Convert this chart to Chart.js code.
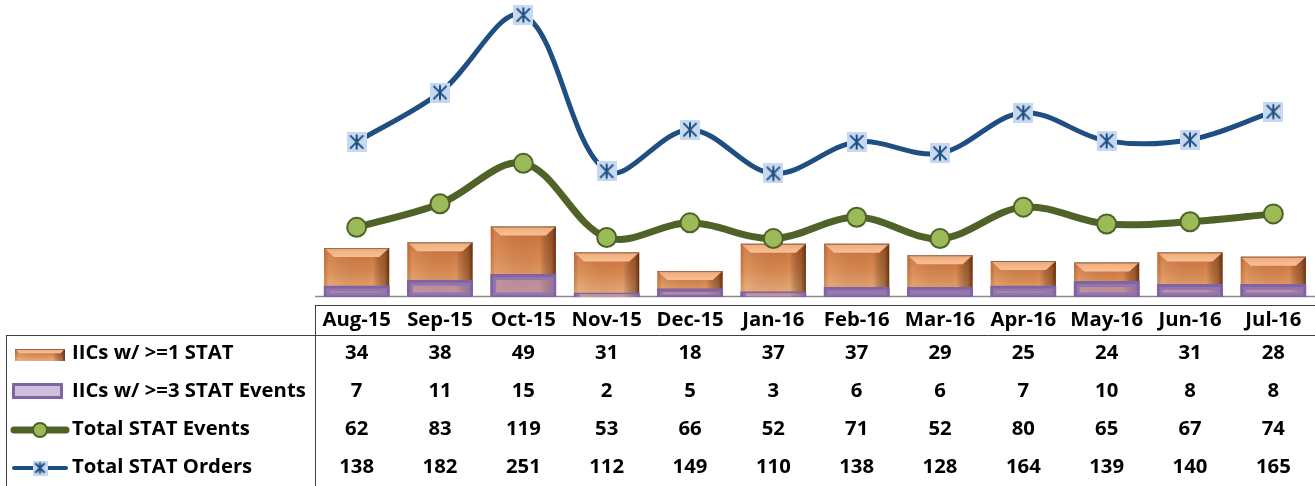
<!DOCTYPE html>
<html><head><meta charset="utf-8">
<script src="https://cdn.jsdelivr.net/npm/chart.js@4"></script>
<style>html,body{margin:0;padding:0;background:#fff;overflow:hidden}#wrap{position:relative;width:1315px;height:486px}</style>
</head><body><div id="wrap"><canvas id="c" width="1315" height="486"></canvas></div>
<script>
const categories = ['Aug-15','Sep-15','Oct-15','Nov-15','Dec-15','Jan-16','Feb-16','Mar-16','Apr-16','May-16','Jun-16','Jul-16'];
const iics1 = [34,38,49,31,18,37,37,29,25,24,31,28];
const iics3 = [7,11,15,2,5,3,6,6,7,10,8,8];
const statEvents = [62,83,119,53,66,52,71,52,80,65,67,74];
const statOrders = [138,182,251,112,149,110,138,128,164,139,140,165];
const seriesNames = ['IICs w/ >=1 STAT','IICs w/ >=3 STAT Events','Total STAT Events','Total STAT Orders'];

const BLUE = '#1f4e82', GREEN = '#4f6228', GREEN_FILL = '#9bbb59', PURPLE = '#8064a2';

function starMarker(s) {
  const c = document.createElement('canvas');
  c.width = s; c.height = s;
  const g = c.getContext('2d');
  g.fillStyle = '#c6d9f1';
  g.fillRect(0, 0, s, s);
  g.strokeStyle = BLUE; g.lineWidth = 2;
  const m = s * 0.12;
  g.beginPath();
  g.moveTo(s/2, m); g.lineTo(s/2, s - m);
  g.moveTo(m + 1, m + 1); g.lineTo(s - m - 1, s - m - 1);
  g.moveTo(s - m - 1, m + 1); g.lineTo(m + 1, s - m - 1);
  g.stroke();
  return c;
}
const starImg = starMarker(20);
const starSmall = starMarker(15);

function drawBarFace(ctx, l, r, top, base) {
  const h = base - top, w = r - l;
  if (h <= 0) return;
  let g = ctx.createLinearGradient(0, top, 0, base);
  g.addColorStop(0, '#c96f38'); g.addColorStop(0.5, '#d98a52'); g.addColorStop(1, '#eab080');
  ctx.fillStyle = g; ctx.fillRect(l, top, w, h);
  let gh = ctx.createLinearGradient(l, 0, r, 0);
  gh.addColorStop(0, 'rgba(120,60,25,0.25)'); gh.addColorStop(0.08, 'rgba(255,210,170,0.15)');
  gh.addColorStop(0.75, 'rgba(0,0,0,0)'); gh.addColorStop(0.93, 'rgba(90,40,10,0.45)'); gh.addColorStop(1, 'rgba(70,30,5,0.8)');
  ctx.fillStyle = gh; ctx.fillRect(l, top, w, h);
  const d = Math.min(9, h * 0.35);
  let gt = ctx.createLinearGradient(0, top, 0, top + d);
  gt.addColorStop(0, '#f2a978'); gt.addColorStop(1, '#f7c096');
  ctx.fillStyle = gt;
  ctx.beginPath(); ctx.moveTo(l, top); ctx.lineTo(r, top); ctx.lineTo(r - d * 1.1, top + d); ctx.lineTo(l + d * 1.1, top + d); ctx.closePath(); ctx.fill();
  ctx.strokeStyle = 'rgba(110,90,80,0.8)'; ctx.lineWidth = 1;
  ctx.beginPath(); ctx.moveTo(l, top + 0.5); ctx.lineTo(r, top + 0.5); ctx.stroke();
}

const tablePlugin = {
  id: 'tablePlugin',
  beforeDatasetsDraw(chart) {
    const ctx = chart.ctx, a = chart.chartArea;
    ctx.save();
    ctx.strokeStyle = '#8a8a8a'; ctx.lineWidth = 1.5;
    ctx.beginPath(); ctx.moveTo(a.left, a.bottom - 0.5); ctx.lineTo(a.right, a.bottom - 0.5); ctx.stroke();
    ctx.restore();
  },
  afterDatasetDraw(chart, args) {
    if (args.index !== 0) return;
    const ctx = chart.ctx;
    ctx.save();
    args.meta.data.forEach(bar => {
      const p = bar.getProps(['x', 'y', 'base', 'width'], true);
      drawBarFace(ctx, p.x - p.width / 2, p.x + p.width / 2, p.y, p.base);
    });
    ctx.restore();
  },
  afterDraw(chart) {
    const ctx = chart.ctx, xs = chart.scales.x, a = chart.chartArea;
    ctx.save();
    ctx.font = 'bold 20px "Open Sans"';
    const fs = 20 * 234 / ctx.measureText(seriesNames[1]).width;
    ctx.font = 'bold ' + fs.toFixed(2) + 'px "Open Sans"';
    ctx.fillStyle = '#000';
    ctx.textBaseline = 'middle';
    ctx.strokeStyle = '#404040'; ctx.lineWidth = 1;
    ctx.beginPath();
    ctx.moveTo(a.left, 305.5); ctx.lineTo(a.right, 305.5);
    ctx.moveTo(6, 335.5); ctx.lineTo(a.right, 335.5);
    ctx.moveTo(a.left + 0.5, 305); ctx.lineTo(a.left + 0.5, 486);
    ctx.moveTo(6.5, 335); ctx.lineTo(6.5, 486);
    ctx.stroke();
    ctx.textAlign = 'center';
    const rowsY = [353, 391, 429, 467];
    const rows = [iics1, iics3, statEvents, statOrders];
    categories.forEach((c, i) => {
      const x = xs.getPixelForValue(i);
      ctx.fillText(c, x, 320);
      rows.forEach((r, k) => ctx.fillText(String(r[i]), x, rowsY[k]));
    });
    ctx.textAlign = 'left';
    seriesNames.forEach((n, k) => ctx.fillText(n, 72, rowsY[k]));
    drawBarFace(ctx, 15, 65, 349, 361);
    ctx.fillStyle = '#ccc0da'; ctx.fillRect(13.5, 384.5, 48, 13);
    ctx.strokeStyle = PURPLE; ctx.lineWidth = 3; ctx.strokeRect(13.5, 384.5, 48, 13);
    ctx.lineCap = 'round';
    ctx.strokeStyle = GREEN; ctx.lineWidth = 7;
    ctx.beginPath(); ctx.moveTo(14, 430); ctx.lineTo(66, 430); ctx.stroke();
    ctx.fillStyle = GREEN_FILL; ctx.lineWidth = 2;
    ctx.beginPath(); ctx.arc(40, 430, 7, 0, Math.PI * 2); ctx.fill(); ctx.stroke();
    ctx.strokeStyle = BLUE; ctx.lineWidth = 4;
    ctx.beginPath(); ctx.moveTo(14, 468); ctx.lineTo(66, 468); ctx.stroke();
    ctx.drawImage(starSmall, 40 - 7.5, 468 - 7.5);
    ctx.restore();
  }
};

new Chart(document.getElementById('c'), {
  data: {
    labels: categories,
    datasets: [
      { type: 'bar', label: seriesNames[0], data: iics1, yAxisID: 'y2', order: 3, grouped: false,
        backgroundColor: '#d98a52', barPercentage: 0.78, categoryPercentage: 1 },
      { type: 'bar', label: seriesNames[1], data: iics3, yAxisID: 'y2', order: 2, grouped: false,
        backgroundColor: 'rgba(160,130,185,0.55)', borderColor: PURPLE, borderWidth: 3, borderSkipped: false,
        inflateAmount: 1.5, barPercentage: 0.76, categoryPercentage: 1 },
      { type: 'line', label: seriesNames[2], data: statEvents, yAxisID: 'y', order: 1,
        borderColor: GREEN, borderWidth: 7, tension: 0.35, pointRadius: 9.5, pointBorderWidth: 2,
        pointBackgroundColor: GREEN_FILL, pointBorderColor: GREEN },
      { type: 'line', label: seriesNames[3], data: statOrders, yAxisID: 'y', order: 0,
        borderColor: BLUE, borderWidth: 5, tension: 0.35, pointStyle: starImg, pointRadius: 10 }
    ]
  },
  options: {
    responsive: false, animation: false, devicePixelRatio: 1,
    layout: { autoPadding: false, padding: { left: 315, right: 0, top: 0, bottom: 189 } },
    plugins: { legend: { display: false }, tooltip: { enabled: false } },
    scales: {
      x: { type: 'category', display: false, offset: true },
      y: { display: false, min: 0, max: 264.4 },
      y2: { display: false, min: 0, max: 206.6, position: 'right' }
    }
  },
  plugins: [tablePlugin]
});
</script></body></html>
